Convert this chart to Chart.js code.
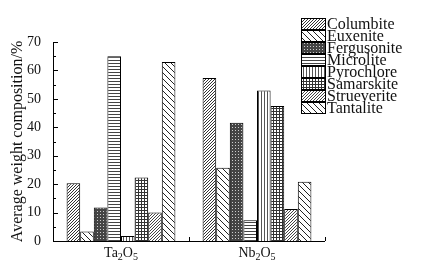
<!DOCTYPE html>
<html>
<head>
<meta charset="utf-8">
<script src="https://cdn.jsdelivr.net/npm/chart.js@4.4.0/dist/chart.umd.min.js"></script>
<style>
  html, body { margin: 0; padding: 0; background: #fff; }
  #wrap { width: 432px; height: 269px; }
</style>
</head>
<body>
<div id="wrap"><canvas id="chart" width="432" height="269"></canvas></div>
<script>
// data
var oxides = ["Ta2O5", "Nb2O5"];
var minerals = ["Columbite", "Euxenite", "Fergusonite", "Microlite", "Pyrochlore", "Samarskite", "Strueverite", "Tantalite"];
var columbite   = [20.3, 57.3];
var euxenite    = [3.3, 25.8];
var fergusonite = [11.8, 41.6];
var microlite   = [65.0, 7.3];
var pyrochlore  = [1.8, 52.9];
var samarskite  = [22.3, 47.5];
var strueverite = [10.0, 11.3];
var tantalite   = [63.0, 20.8];
var yTicks = [0, 10, 20, 30, 40, 50, 60, 70];

var serif = "'Liberation Serif', 'Times New Roman', serif";

// hatch fills
function makePattern(kind) {
    var c = document.createElement('canvas');
    var s = (kind == 'back') ? 6 : 3;
    c.width = s; c.height = s;
    var g = c.getContext('2d');
    g.fillStyle = '#fff';
    g.fillRect(0, 0, s, s);
    g.lineWidth = 1;
    if (kind == 'fwd' || kind == 'fwd2') {
        g.strokeStyle = kind == 'fwd' ? '#333' : '#444';
        g.beginPath();
        g.moveTo(0, s); g.lineTo(s, 0);
        g.moveTo(-1, 1); g.lineTo(1, -1);
        g.moveTo(s - 1, s + 1); g.lineTo(s + 1, s - 1);
        g.stroke();
    } else if (kind == 'back') {
        g.strokeStyle = '#222';
        g.beginPath();
        g.moveTo(0, 0); g.lineTo(s, s);
        g.moveTo(-1, s - 1); g.lineTo(1, s + 1);
        g.moveTo(s - 1, -1); g.lineTo(s + 1, 1);
        g.stroke();
    } else if (kind == 'cross') {
        g.fillStyle = '#444';
        g.fillRect(0, 0, s, s);
        g.fillStyle = '#ccc';
        g.fillRect(1, 1, 1, 1);
    } else if (kind == 'horiz') {
        g.fillStyle = '#444';
        g.fillRect(0, 0, s, 1);
    } else if (kind == 'vert') {
        g.fillStyle = '#555';
        g.fillRect(0, 0, 1, s);
    } else if (kind == 'grid') {
        g.fillStyle = '#333';
        g.fillRect(0, 0, s, 1);
        g.fillRect(0, 0, 1, s);
    }
    return g.createPattern(c, 'repeat');
}

var kinds = ['fwd', 'back', 'cross', 'horiz', 'vert', 'grid', 'fwd2', 'back'];
var series = [columbite, euxenite, fergusonite, microlite, pyrochlore, samarskite, strueverite, tantalite];

var datasets = [];
for (var i = 0; i < minerals.length; i++) {
    datasets.push({
        label: minerals[i],
        data: series[i],
        backgroundColor: makePattern(kinds[i]),
        borderColor: '#000',
        borderWidth: 1,
        borderSkipped: 'bottom'
    });
}

// axes, ticks, subscript labels and legend drawn by hand
var decorPlugin = {
    id: 'decor',
    afterDraw: function (chart) {
        var ctx = chart.ctx;
        var a = chart.chartArea;
        var ys = chart.scales.y;
        var xs = chart.scales.x;
        ctx.save();
        ctx.strokeStyle = '#000';
        ctx.lineWidth = 1;
        ctx.beginPath();
        ctx.moveTo(a.left + 0.5, a.top);
        ctx.lineTo(a.left + 0.5, a.bottom + 0.5);
        ctx.lineTo(a.right, a.bottom + 0.5);
        ctx.stroke();
        // y ticks, major and minor, pointing in
        ctx.beginPath();
        for (var v = 0; v <= 70; v += 5) {
            var py = Math.round(ys.getPixelForValue(v)) + 0.5;
            var len = (v % 10 == 0) ? 5 : 3;
            ctx.moveTo(a.left, py);
            ctx.lineTo(a.left + len, py);
        }
        // x ticks at category edges
        var w = xs.getPixelForTick(1) - xs.getPixelForTick(0);
        for (var k = 0; k < oxides.length; k++) {
            var px = Math.round(xs.getPixelForTick(k) + w / 2) + 0.5;
            ctx.moveTo(px, a.bottom);
            ctx.lineTo(px, a.bottom - 4);
        }
        ctx.stroke();

        // x labels with subscripts
        ctx.fillStyle = '#111';
        ctx.textBaseline = 'alphabetic';
        for (var k = 0; k < oxides.length; k++) {
            var parts = oxides[k].match(/[A-Za-z]+|\d+/g);
            var total = 0;
            parts.forEach(function (p) {
                ctx.font = (/\d/.test(p) ? '10px ' : '14px ') + serif;
                total += ctx.measureText(p).width;
            });
            var x0 = xs.getPixelForTick(k) - total / 2;
            parts.forEach(function (p) {
                var sub = /\d/.test(p);
                ctx.font = (sub ? '10px ' : '14px ') + serif;
                ctx.fillText(p, x0, sub ? 260 : 257);
                x0 += ctx.measureText(p).width;
            });
        }

        // legend
        var lx = 301, ly = 18, rh = 12;
        ctx.font = '16px ' + serif;
        ctx.textBaseline = 'middle';
        chart.data.datasets.forEach(function (ds, j) {
            var top = Math.round(ly + j * rh);
            ctx.fillStyle = ds.backgroundColor;
            ctx.fillRect(lx, top, 24, 11);
            ctx.strokeStyle = '#000';
            ctx.strokeRect(lx + 0.5, top + 0.5, 24, 11);
            ctx.fillStyle = '#111';
            ctx.fillText(ds.label, lx + 26, top + 6.5);
        });
        ctx.restore();
    }
};

new Chart(document.getElementById('chart'), {
    type: 'bar',
    data: { labels: oxides, datasets: datasets },
    options: {
        responsive: false,
        animation: false,
        layout: { padding: { top: 42, right: 107, left: 0, bottom: 0 } },
        plugins: { legend: { display: false }, tooltip: { enabled: false } },
        datasets: { bar: { categoryPercentage: 0.8, barPercentage: 1.0 } },
        scales: {
            x: {
                grid: { display: false },
                border: { display: false },
                ticks: { display: false },
                afterFit: function (s) { s.height = 28; }
            },
            y: {
                min: 0,
                max: 70,
                grid: { display: false },
                border: { display: false },
                afterBuildTicks: function (s) {
                    s.ticks = yTicks.map(function (v) { return { value: v }; });
                },
                ticks: {
                    color: '#111',
                    padding: 4,
                    font: { family: serif, size: 14 }
                },
                title: {
                    display: true,
                    text: 'Average weight composition/%',
                    color: '#111',
                    padding: { top: 8, bottom: 2 },
                    font: { family: serif, size: 16 }
                },
                afterFit: function (s) { s.width = 53; }
            }
        }
    },
    plugins: [decorPlugin]
});
</script>
</body>
</html>
